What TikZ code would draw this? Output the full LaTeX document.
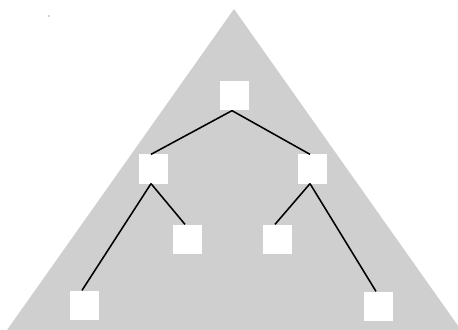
\documentclass[tikz,border=0pt]{standalone}
\usepackage{tikz}
\usetikzlibrary{positioning}

\definecolor{treegray}{gray}{0.81}

\begin{document}
\begin{tikzpicture}[x=0.5mm,y=-0.5mm]
    \useasboundingbox (0,0) rectangle (458,330);

    \fill[treegray] (234,9) -- (461,330) -- (7,330) -- cycle;
    \fill[black!70] (49,16) circle (0.7);

    \tikzset{leaf/.style={
      fill=white,
      draw=none,
      minimum width=14.5mm,
      minimum height=14.5mm,
      inner sep=0pt
    }}

    \node[leaf] (root) at (234,96) {};
    \node[leaf] (left) at (153,169) {};
    \node[leaf] (right) at (312,169) {};
    \node[leaf] (leftin) at (187,239) {};
    \node[leaf] (rightin) at (277,239) {};
    \node[leaf] (leftout) at (84,305) {};
    \node[leaf] (rightout) at (378,306) {};

    \foreach \from/\to in {root/left,root/right,left/leftout,left/leftin,right/rightin,right/rightout} {
      \draw[line width=2.2pt] ([xshift=-1mm]\from.south) -- ([xshift=-1mm]\to.north);
    }
  \end{tikzpicture}
\end{document}
